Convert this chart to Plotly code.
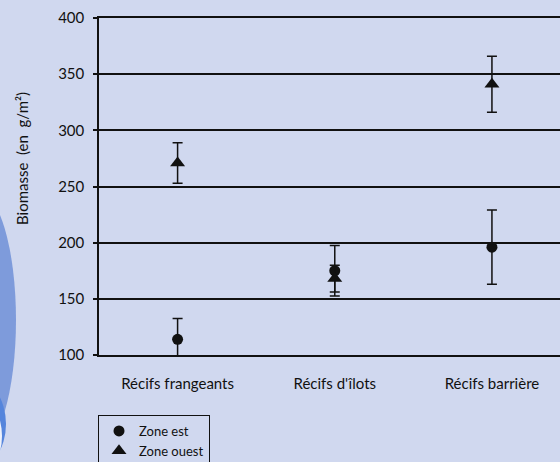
import plotly.graph_objects as go

# ─── DATA ───
categories = ["Récifs frangeants", "Récifs d'îlots", "Récifs barrière"]
est_vals = [114, 175, 196]
est_err = [18.5, 22.5, 33]
ouest_vals = [271, 168, 341]
ouest_err = [18, 12, 25]
y_ticks = [100, 150, 200, 250, 300, 350, 400]

# ─── THEME ───
_BG = "#d0d8ef"
_INK = "#111111"
_FONT = "Lato, 'Open Sans', sans-serif"

W, H = 560, 462
L, R, T, B = 99, 0, 18, 107
PW, PH = W - L - R, H - T - B


def px(x):
    return (x - L) / PW


def py(y):
    return (H - B - y) / PH


xs = list(range(len(categories)))

fig = go.Figure()
fig.add_trace(go.Scatter(
    x=xs, y=est_vals, mode="markers", name="Zone est",
    marker=dict(symbol="circle", size=11, color=_INK),
    error_y=dict(type="data", array=est_err, color=_INK, thickness=1.5, width=5),
    cliponaxis=False,
))
fig.add_trace(go.Scatter(
    x=xs, y=ouest_vals, mode="markers", name="Zone ouest",
    marker=dict(symbol="triangle-up", size=13, color=_INK),
    error_y=dict(type="data", array=ouest_err, color=_INK, thickness=1.5, width=5),
    cliponaxis=False,
))

# decorative blue disc on the left edge
fig.add_shape(type="circle", xref="paper", yref="paper", layer="below",
              x0=px(-62), x1=px(16), y0=py(190), y1=py(450),
              fillcolor="#7e9bdb", line_width=0)
fig.add_shape(type="circle", xref="paper", yref="paper", layer="below",
              x0=px(-60), x1=px(6), y0=py(378), y1=py(470),
              fillcolor="#5585dc", line_width=0)
fig.add_shape(type="circle", xref="paper", yref="paper", layer="below",
              x0=px(-60), x1=px(2), y0=py(392), y1=py(480),
              fillcolor="#eef2fb", line_width=0)

fig.add_annotation(
    text="Biomasse\u00a0\u00a0(en\u00a0\u00a0g/m²)", textangle=-90, showarrow=False,
    xref="paper", yref="paper", x=px(22), y=py(159),
    xanchor="center", yanchor="middle",
    font=dict(size=15, color=_INK, family=_FONT),
)

fig.update_layout(
    width=W, height=H,
    paper_bgcolor=_BG, plot_bgcolor=_BG,
    font=dict(family=_FONT, color=_INK, size=15),
    margin=dict(l=L, r=R, t=T, b=B, autoexpand=False),
    showlegend=True,
    legend=dict(
        x=px(98), y=py(415), xanchor="left", yanchor="top",
        bgcolor=_BG, bordercolor=_INK, borderwidth=1,
        font=dict(size=13, family=_FONT, color=_INK),
        itemwidth=30, tracegroupgap=0,
    ),
)
fig.update_xaxes(
    tickvals=xs, ticktext=categories, range=[-0.5, 2.433],
    showgrid=False, zeroline=False, showline=True, mirror=True,
    linecolor=_INK, linewidth=1.5,
    ticks="", ticklabelstandoff=14, tickfont=dict(size=15),
)
fig.update_yaxes(
    tickvals=y_ticks, range=[100, 400],
    showgrid=True, gridcolor=_INK, gridwidth=1.5, zeroline=False,
    showline=True, linecolor=_INK, linewidth=1.5,
    ticks="outside", ticklen=4, tickcolor=_INK, tickwidth=1.5,
    ticklabelstandoff=6, tickfont=dict(size=15),
)

fig.write_html("out.html", config={"displayModeBar": False},
               post_script="document.body.style.margin='0';")
